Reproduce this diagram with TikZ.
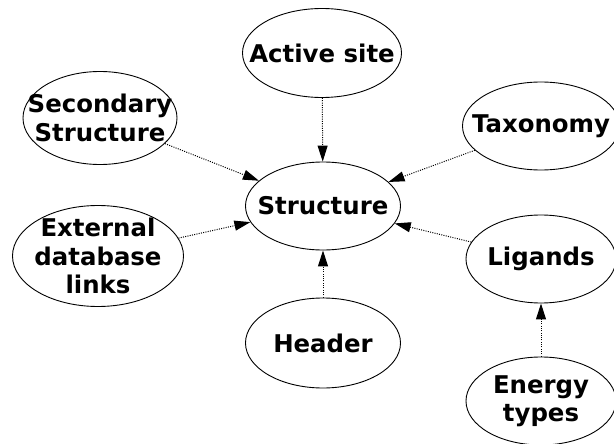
\documentclass[tikz,border=0pt]{standalone}
\usepackage{fontspec}
\setmainfont{DejaVu Sans}
\usetikzlibrary{shapes.geometric, arrows.meta}

\begin{document}
\begin{tikzpicture}[
    x=1pt, y=-1pt,
    entity/.style={draw, ellipse, line width=0.9pt, inner sep=-30pt, align=center,
        font=\fontsize{24.4}{28.5}\selectfont\bfseries},
    arrow/.style={-{Triangle[length=16pt, width=10pt]}, line width=1pt, dash pattern=on 1pt off 1.3pt}
]
    \useasboundingbox (0,0) rectangle (614,444);

    % Central node
    \node[entity, minimum width=155pt, minimum height=88pt] (str) at (323,206) {Structure};

    % Surrounding nodes
    \node[entity, minimum width=159pt, minimum height=89pt] (act) at (322,53) {Active site};
    \node[entity, minimum width=154pt, minimum height=93pt] (sec) at (100,118) {Secondary\\Structure};
    \node[entity, minimum width=157pt, minimum height=88pt] (tax) at (541,126) {Taxonomy};
    \node[entity, minimum width=171pt, minimum height=101pt] (ext) at (98,256) {External\\database\\links};
    \node[entity, minimum width=150pt, minimum height=88pt] (lig) at (541,259) {Ligands};
    \node[entity, minimum width=155pt, minimum height=90pt] (hdr) at (323,343) {Header};
    \node[entity, minimum width=150pt, minimum height=88pt] (egy) at (541,401) {Energy\\types};

    % Connections
    \draw[arrow] (act) -- (str);
    \draw[arrow] (sec) -- (str);
    \draw[arrow] (tax) -- (str);
    \draw[arrow] (ext) -- (str);
    \draw[arrow] (lig) -- (str);
    \draw[arrow] (hdr) -- (str);
    \draw[arrow] (egy) -- (lig);
\end{tikzpicture}
\end{document}
